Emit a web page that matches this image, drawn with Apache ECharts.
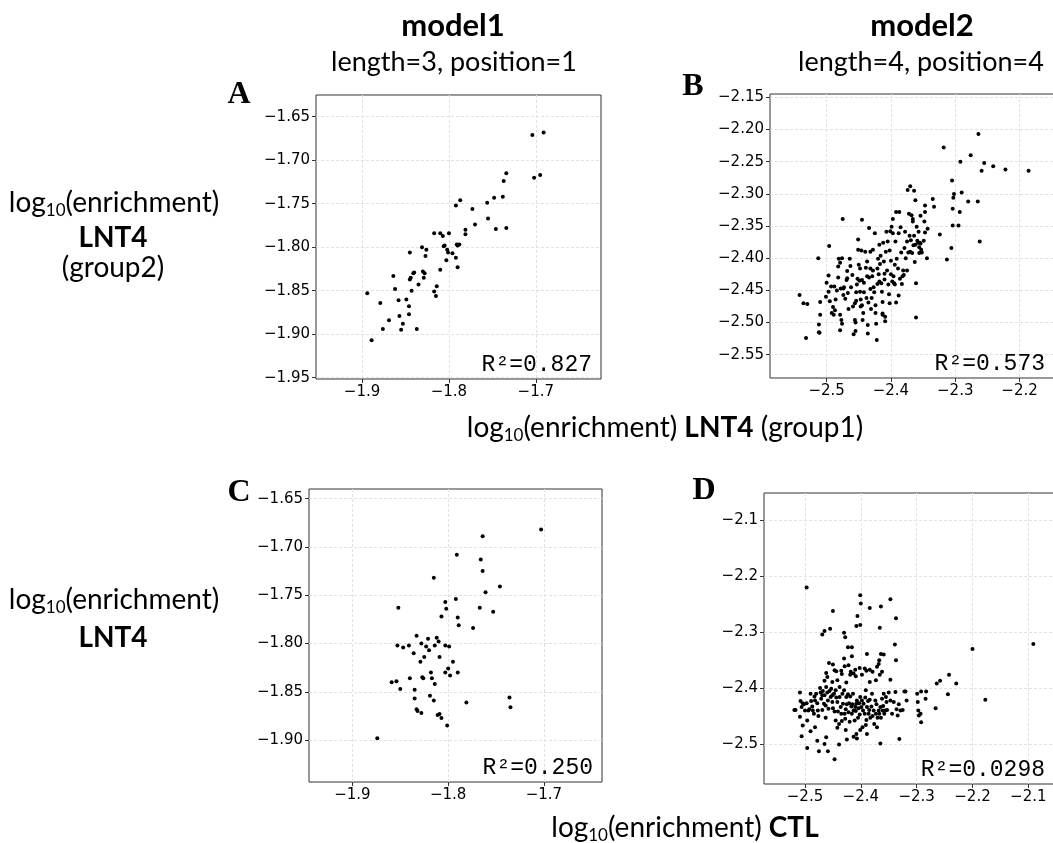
<!DOCTYPE html>
<html><head><meta charset="utf-8">
<script src="https://cdn.jsdelivr.net/npm/echarts@6/dist/echarts.min.js"></script>
<style>html,body{margin:0;padding:0;background:#fff}#c{width:1053px;height:843px}</style>
</head><body><div id="c"></div><script>
// ---------- data ----------
const panelA = [
[-1.894,-1.853],[-1.889,-1.907],[-1.879,-1.864],[-1.876,-1.894],[-1.869,-1.884],[-1.864,-1.833],[-1.862,-1.848],[-1.858,-1.861],[-1.857,-1.879],[-1.855,-1.895],[-1.853,-1.888],[-1.849,-1.860],[-1.846,-1.868],[-1.846,-1.877],[-1.845,-1.806],[-1.845,-1.837],[-1.844,-1.835],[-1.843,-1.850],[-1.841,-1.830],[-1.840,-1.829],[-1.837,-1.894],[-1.835,-1.843],[-1.831,-1.800],[-1.830,-1.828],[-1.829,-1.835],[-1.828,-1.830],[-1.827,-1.810],[-1.826,-1.803],[-1.817,-1.784],[-1.817,-1.851],[-1.815,-1.856],[-1.814,-1.845],[-1.810,-1.784],[-1.810,-1.826],[-1.807,-1.787],[-1.806,-1.799],[-1.805,-1.798],[-1.803,-1.815],[-1.802,-1.803],[-1.801,-1.806],[-1.800,-1.784],[-1.796,-1.807],[-1.792,-1.812],[-1.792,-1.752],[-1.791,-1.797],[-1.790,-1.823],[-1.790,-1.798],[-1.788,-1.797],[-1.787,-1.746],[-1.781,-1.780],[-1.781,-1.785],[-1.773,-1.756],[-1.770,-1.774],[-1.756,-1.749],[-1.755,-1.767],[-1.748,-1.743],[-1.746,-1.779],[-1.738,-1.742],[-1.737,-1.724],[-1.734,-1.715],[-1.734,-1.778],[-1.704,-1.671],[-1.702,-1.720],[-1.695,-1.717],[-1.691,-1.668]
];
const panelB = [
[-2.542,-2.457],[-2.536,-2.470],[-2.530,-2.471],[-2.532,-2.524],[-2.513,-2.400],[-2.510,-2.488],[-2.512,-2.503],[-2.512,-2.515],[-2.511,-2.516],[-2.510,-2.468],[-2.496,-2.381],[-2.500,-2.438],[-2.501,-2.460],[-2.497,-2.427],[-2.497,-2.452],[-2.493,-2.444],[-2.495,-2.467],[-2.492,-2.485],[-2.489,-2.488],[-2.490,-2.476],[-2.487,-2.481],[-2.488,-2.444],[-2.486,-2.464],[-2.484,-2.450],[-2.482,-2.430],[-2.482,-2.413],[-2.481,-2.401],[-2.479,-2.407],[-2.475,-2.339],[-2.476,-2.400],[-2.478,-2.447],[-2.479,-2.488],[-2.477,-2.496],[-2.476,-2.502],[-2.479,-2.512],[-2.474,-2.447],[-2.473,-2.445],[-2.474,-2.457],[-2.471,-2.463],[-2.469,-2.434],[-2.468,-2.420],[-2.468,-2.431],[-2.467,-2.454],[-2.466,-2.479],[-2.463,-2.412],[-2.464,-2.401],[-2.462,-2.445],[-2.460,-2.426],[-2.459,-2.475],[-2.458,-2.518],[-2.456,-2.470],[-2.456,-2.496],[-2.455,-2.500],[-2.455,-2.513],[-2.454,-2.453],[-2.454,-2.466],[-2.453,-2.441],[-2.452,-2.432],[-2.451,-2.371],[-2.451,-2.387],[-2.450,-2.410],[-2.449,-2.435],[-2.448,-2.416],[-2.448,-2.452],[-2.447,-2.464],[-2.447,-2.475],[-2.445,-2.340],[-2.446,-2.388],[-2.445,-2.434],[-2.445,-2.473],[-2.444,-2.496],[-2.443,-2.485],[-2.442,-2.453],[-2.442,-2.438],[-2.440,-2.390],[-2.439,-2.415],[-2.438,-2.462],[-2.437,-2.405],[-2.437,-2.428],[-2.436,-2.504],[-2.436,-2.517],[-2.435,-2.469],[-2.434,-2.353],[-2.434,-2.430],[-2.432,-2.448],[-2.432,-2.390],[-2.432,-2.416],[-2.431,-2.479],[-2.430,-2.462],[-2.429,-2.428],[-2.428,-2.419],[-2.428,-2.387],[-2.427,-2.445],[-2.426,-2.453],[-2.425,-2.361],[-2.424,-2.473],[-2.424,-2.485],[-2.423,-2.502],[-2.422,-2.527],[-2.421,-2.440],[-2.421,-2.416],[-2.420,-2.401],[-2.419,-2.425],[-2.418,-2.436],[-2.418,-2.379],[-2.417,-2.409],[-2.416,-2.396],[-2.415,-2.439],[-2.414,-2.452],[-2.413,-2.486],[-2.413,-2.468],[-2.413,-2.488],[-2.412,-2.376],[-2.411,-2.405],[-2.410,-2.424],[-2.410,-2.433],[-2.409,-2.491],[-2.409,-2.498],[-2.408,-2.390],[-2.407,-2.359],[-2.406,-2.419],[-2.405,-2.374],[-2.404,-2.441],[-2.403,-2.456],[-2.402,-2.470],[-2.402,-2.388],[-2.401,-2.358],[-2.400,-2.425],[-2.400,-2.404],[-2.399,-2.351],[-2.398,-2.436],[-2.397,-2.339],[-2.397,-2.361],[-2.396,-2.428],[-2.395,-2.439],[-2.394,-2.441],[-2.394,-2.410],[-2.393,-2.374],[-2.392,-2.328],[-2.392,-2.469],[-2.391,-2.401],[-2.389,-2.416],[-2.388,-2.458],[-2.388,-2.361],[-2.387,-2.328],[-2.386,-2.432],[-2.385,-2.352],[-2.384,-2.391],[-2.383,-2.440],[-2.382,-2.428],[-2.381,-2.419],[-2.380,-2.426],[-2.379,-2.384],[-2.378,-2.359],[-2.377,-2.400],[-2.375,-2.374],[-2.375,-2.419],[-2.374,-2.294],[-2.373,-2.391],[-2.372,-2.331],[-2.371,-2.365],[-2.370,-2.390],[-2.370,-2.288],[-2.369,-2.372],[-2.368,-2.333],[-2.367,-2.392],[-2.366,-2.339],[-2.366,-2.343],[-2.365,-2.380],[-2.364,-2.365],[-2.364,-2.295],[-2.363,-2.406],[-2.362,-2.379],[-2.362,-2.310],[-2.361,-2.439],[-2.361,-2.492],[-2.360,-2.351],[-2.359,-2.373],[-2.358,-2.376],[-2.357,-2.359],[-2.356,-2.392],[-2.356,-2.383],[-2.355,-2.376],[-2.354,-2.377],[-2.354,-2.334],[-2.353,-2.387],[-2.352,-2.391],[-2.349,-2.373],[-2.348,-2.343],[-2.347,-2.360],[-2.347,-2.328],[-2.347,-2.318],[-2.344,-2.400],[-2.343,-2.354],[-2.335,-2.308],[-2.333,-2.320],[-2.324,-2.363],[-2.318,-2.228],[-2.306,-2.384],[-2.313,-2.402],[-2.305,-2.279],[-2.302,-2.300],[-2.303,-2.306],[-2.290,-2.298],[-2.280,-2.312],[-2.265,-2.312],[-2.304,-2.323],[-2.293,-2.328],[-2.304,-2.349],[-2.295,-2.349],[-2.262,-2.374],[-2.264,-2.207],[-2.276,-2.240],[-2.292,-2.250],[-2.255,-2.252],[-2.241,-2.257],[-2.259,-2.264],[-2.222,-2.262],[-2.186,-2.264]
];
const panelC = [
[-1.874,-1.898],[-1.859,-1.840],[-1.854,-1.839],[-1.853,-1.802],[-1.852,-1.763],[-1.850,-1.847],[-1.847,-1.804],[-1.841,-1.802],[-1.840,-1.836],[-1.836,-1.810],[-1.835,-1.848],[-1.835,-1.857],[-1.833,-1.792],[-1.833,-1.868],[-1.832,-1.870],[-1.829,-1.819],[-1.828,-1.872],[-1.828,-1.800],[-1.827,-1.835],[-1.826,-1.836],[-1.825,-1.814],[-1.823,-1.803],[-1.821,-1.795],[-1.820,-1.807],[-1.819,-1.854],[-1.818,-1.830],[-1.817,-1.836],[-1.815,-1.732],[-1.815,-1.859],[-1.814,-1.802],[-1.814,-1.842],[-1.812,-1.794],[-1.811,-1.874],[-1.810,-1.798],[-1.809,-1.814],[-1.809,-1.873],[-1.807,-1.772],[-1.807,-1.877],[-1.803,-1.802],[-1.803,-1.757],[-1.803,-1.830],[-1.802,-1.764],[-1.801,-1.885],[-1.800,-1.826],[-1.799,-1.803],[-1.798,-1.833],[-1.795,-1.819],[-1.792,-1.754],[-1.791,-1.708],[-1.790,-1.773],[-1.790,-1.830],[-1.789,-1.781],[-1.781,-1.861],[-1.774,-1.784],[-1.767,-1.763],[-1.766,-1.713],[-1.764,-1.689],[-1.764,-1.725],[-1.761,-1.747],[-1.753,-1.767],[-1.746,-1.741],[-1.736,-1.856],[-1.735,-1.866],[-1.703,-1.682]
];
const panelD = [
[-2.497,-2.220],[-2.401,-2.234],[-2.400,-2.249],[-2.347,-2.241],[-2.450,-2.262],[-2.384,-2.257],[-2.364,-2.254],[-2.406,-2.271],[-2.337,-2.275],[-2.401,-2.287],[-2.408,-2.289],[-2.455,-2.294],[-2.366,-2.292],[-2.430,-2.301],[-2.469,-2.304],[-2.465,-2.298],[-2.428,-2.309],[-2.339,-2.322],[-2.423,-2.327],[-2.416,-2.327],[-2.364,-2.339],[-2.416,-2.343],[-2.367,-2.350],[-2.337,-2.350],[-2.389,-2.339],[-2.430,-2.347],[-2.457,-2.355],[-2.450,-2.358],[-2.429,-2.361],[-2.422,-2.359],[-2.444,-2.370],[-2.435,-2.369],[-2.462,-2.373],[-2.447,-2.368],[-2.434,-2.375],[-2.418,-2.371],[-2.410,-2.367],[-2.402,-2.364],[-2.393,-2.365],[-2.390,-2.369],[-2.384,-2.367],[-2.379,-2.371],[-2.371,-2.362],[-2.368,-2.357],[-2.362,-2.371],[-2.366,-2.376],[-2.373,-2.386],[-2.384,-2.389],[-2.359,-2.340],[-2.347,-2.385],[-2.398,-2.376],[-2.413,-2.374],[-2.409,-2.379],[-2.460,-2.380],[-2.451,-2.389],[-2.465,-2.387],[-2.442,-2.386],[-2.426,-2.390],[-2.419,-2.376],
[-2.509,-2.408],[-2.517,-2.439],[-2.519,-2.439],[-2.508,-2.423],[-2.506,-2.434],[-2.504,-2.427],[-2.502,-2.429],[-2.500,-2.440],[-2.497,-2.427],[-2.494,-2.440],[-2.492,-2.438],[-2.490,-2.410],[-2.489,-2.423],[-2.487,-2.433],[-2.486,-2.440],[-2.484,-2.446],[-2.483,-2.415],[-2.482,-2.422],[-2.480,-2.410],[-2.478,-2.427],[-2.477,-2.440],[-2.476,-2.450],[-2.473,-2.400],[-2.472,-2.408],[-2.471,-2.419],[-2.469,-2.413],[-2.469,-2.439],[-2.468,-2.405],[-2.466,-2.428],[-2.465,-2.413],[-2.463,-2.431],[-2.463,-2.453],[-2.462,-2.398],[-2.460,-2.408],[-2.459,-2.422],[-2.458,-2.437],[-2.456,-2.405],[-2.454,-2.416],[-2.453,-2.401],[-2.451,-2.413],[-2.451,-2.425],[-2.450,-2.436],[-2.448,-2.410],[-2.447,-2.442],[-2.445,-2.458],[-2.445,-2.404],[-2.444,-2.417],[-2.442,-2.425],[-2.441,-2.442],[-2.439,-2.464],[-2.438,-2.398],[-2.438,-2.416],[-2.436,-2.434],[-2.435,-2.446],[-2.434,-2.459],[-2.433,-2.410],[-2.432,-2.428],[-2.430,-2.404],[-2.429,-2.446],[-2.428,-2.455],[-2.427,-2.438],[-2.426,-2.416],[-2.425,-2.429],[-2.423,-2.411],[-2.422,-2.443],[-2.421,-2.427],[-2.420,-2.460],[-2.419,-2.415],[-2.417,-2.433],[-2.416,-2.446],[-2.415,-2.429],[-2.414,-2.410],[-2.413,-2.440],[-2.411,-2.458],[-2.410,-2.434],[-2.409,-2.441],[-2.408,-2.428],[-2.407,-2.422],[-2.405,-2.453],[-2.404,-2.436],[-2.403,-2.427],[-2.402,-2.447],[-2.401,-2.416],[-2.399,-2.434],[-2.398,-2.422],[-2.397,-2.470],[-2.396,-2.440],[-2.395,-2.428],[-2.393,-2.446],[-2.392,-2.417],[-2.391,-2.404],[-2.390,-2.457],[-2.389,-2.434],[-2.387,-2.423],[-2.386,-2.446],[-2.385,-2.439],[-2.384,-2.421],[-2.383,-2.453],[-2.381,-2.433],[-2.380,-2.410],[-2.379,-2.450],[-2.377,-2.440],[-2.376,-2.464],[-2.374,-2.422],[-2.373,-2.446],[-2.372,-2.429],[-2.371,-2.470],[-2.370,-2.453],[-2.368,-2.440],[-2.367,-2.446],[-2.365,-2.434],[-2.364,-2.453],[-2.362,-2.419],[-2.361,-2.440],[-2.360,-2.432],[-2.359,-2.410],[-2.358,-2.446],[-2.356,-2.440],[-2.355,-2.416],[-2.354,-2.425],[-2.353,-2.439],[-2.350,-2.408],[-2.347,-2.422],[-2.344,-2.446],[-2.341,-2.425],[-2.338,-2.407],[-2.336,-2.438],[-2.334,-2.449],[-2.332,-2.429],[-2.329,-2.440],[-2.325,-2.439],[-2.322,-2.406],[-2.320,-2.406],[-2.318,-2.422],
[-2.299,-2.410],[-2.298,-2.425],[-2.297,-2.440],[-2.296,-2.449],[-2.293,-2.446],[-2.292,-2.461],[-2.292,-2.406],[-2.283,-2.406],[-2.284,-2.419],[-2.266,-2.436],[-2.264,-2.392],[-2.258,-2.387],[-2.242,-2.376],[-2.229,-2.392],[-2.244,-2.411],[-2.200,-2.330],[-2.177,-2.421],[-2.091,-2.321],[-2.331,-2.491],[-2.365,-2.499],
[-2.447,-2.527],[-2.459,-2.513],[-2.475,-2.513],[-2.496,-2.507],[-2.506,-2.486],[-2.478,-2.494],[-2.465,-2.500],[-2.462,-2.488],[-2.490,-2.477],[-2.504,-2.467],[-2.482,-2.470],[-2.496,-2.458],[-2.509,-2.451],[-2.442,-2.471],[-2.427,-2.475],[-2.413,-2.487],[-2.401,-2.475],[-2.389,-2.482],[-2.425,-2.492],[-2.407,-2.490],[-2.391,-2.466],[-2.408,-2.482],[-2.439,-2.501]
];
const aXTicks = [-1.9, -1.8, -1.7];
const aYTicks = [-1.95, -1.9, -1.85, -1.8, -1.75, -1.7, -1.65];
const bXTicks = [-2.5, -2.4, -2.3, -2.2];
const bYTicks = [-2.55, -2.5, -2.45, -2.4, -2.35, -2.3, -2.25, -2.2, -2.15];
const cXTicks = [-1.9, -1.8, -1.7];
const cYTicks = [-1.9, -1.85, -1.8, -1.75, -1.7, -1.65];
const dXTicks = [-2.5, -2.4, -2.3, -2.2, -2.1];
const dYTicks = [-2.5, -2.4, -2.3, -2.2, -2.1];
const r2Labels = ['R²=0.827', 'R²=0.573', 'R²=0.250', 'R²=0.0298'];
const panelLetters = ['A', 'B', 'C', 'D'];

// ---------- layout ----------
const panels = [
  {data: panelA, xt: aXTicks, yt: aYTicks, xd: 1, yd: 2, box: {left: 316, top: 95, width: 285, height: 284}, xr: [-1.953, -1.625], yr: [-1.9515, -1.625], letter: [239, 95]},
  {data: panelB, xt: bXTicks, yt: bYTicks, xd: 1, yd: 2, box: {left: 770, top: 94, width: 284, height: 284}, xr: [-2.588, -2.1465], yr: [-2.5862, -2.1447], letter: [693, 87]},
  {data: panelC, xt: cXTicks, yt: cYTicks, xd: 1, yd: 2, box: {left: 309, top: 489, width: 293, height: 293}, xr: [-1.9453, -1.6394], yr: [-1.9434, -1.640], letter: [239, 493]},
  {data: panelD, xt: dXTicks, yt: dYTicks, xd: 1, yd: 1, box: {left: 764, top: 493, width: 291, height: 291}, xr: [-2.5734, -2.0522], yr: [-2.5714, -2.0513], letter: [704, 491]}
];
const fmt = d => v => (v < 0 ? '\u2212' : '') + Math.abs(v).toFixed(d);
const tickFont = {fontFamily: 'DejaVu Sans', fontSize: 15, color: '#000'};
const gridLine = {show: true, lineStyle: {color: '#e2e2e2', type: [3, 2], width: 1}};

const graphic = [];
function txt(x, y, text, font, align, rich) {
  const st = {text: text, x: x, y: y, font: font, fill: '#000', textAlign: align || 'center', textVerticalAlign: 'middle'};
  if (rich) st.rich = rich;
  graphic.push({type: 'text', x: 0, y: 0, silent: true, style: st});
}
const n = {fontFamily: 'Lato', fontSize: 28, lineHeight: 32};
const nb = {fontFamily: 'Lato', fontSize: 28, fontWeight: 'bold', lineHeight: 32};
const sub = {fontFamily: 'Lato', fontSize: 17, lineHeight: 17, verticalAlign: 'bottom'};
const rich = {n: n, b: nb, s: sub};

txt(453, 26, 'model1', 'bold 31px Lato');
txt(922, 26, 'model2', 'bold 31px Lato');
txt(454, 62, 'length=3, position=1', '27px Lato');
txt(921, 62, 'length=4, position=4', '27px Lato');
txt(114, 203, '{n|log}{s|10}{n|(enrichment)}', '28px Lato', 'center', rich);
txt(113, 238, 'LNT4', 'bold 28px Lato');
txt(113, 268, '(group2)', '28px Lato');
txt(114, 600, '{n|log}{s|10}{n|(enrichment)}', '28px Lato', 'center', rich);
txt(113, 638, 'LNT4', 'bold 28px Lato');
txt(665, 428, '{n|log}{s|10}{n|(enrichment) }{b|LNT4}{n| (group1)}', '28px Lato', 'center', rich);
txt(685, 828, '{n|log}{s|10}{n|(enrichment) }{b|CTL}', '28px Lato', 'center', rich);
panels.forEach((p, i) => {
  txt(p.letter[0], p.letter[1], panelLetters[i], 'bold 32px "Liberation Serif"');
  graphic.push({type: 'text', silent: true, z: 10, style: {
    text: r2Labels[i], x: Math.min(p.box.left + p.box.width, 1054) - 9, y: p.box.top + p.box.height - 3,
    font: '23px "Liberation Mono"', fill: '#000', textAlign: 'right', textVerticalAlign: 'bottom'}});
});

const option = {
  animation: false,
  backgroundColor: '#fff',
  grid: panels.map(p => Object.assign({show: true, borderColor: '#333', borderWidth: 1, backgroundColor: 'transparent', containLabel: false, outerBoundsMode: 'none'}, p.box)),
  xAxis: panels.map((p, i) => ({
    gridIndex: i, type: 'value', min: p.xr[0], max: p.xr[1],
    axisLine: {show: false},
    axisTick: {show: true, length: 4, lineStyle: {color: '#333'}, customValues: p.xt},
    axisLabel: Object.assign({customValues: p.xt, formatter: fmt(p.xd), margin: 6}, tickFont),
    splitLine: gridLine
  })),
  yAxis: panels.map((p, i) => ({
    gridIndex: i, type: 'value', min: p.yr[0], max: p.yr[1],
    axisLine: {show: false},
    axisTick: {show: true, length: 4, lineStyle: {color: '#333'}, customValues: p.yt},
    axisLabel: Object.assign({customValues: p.yt, formatter: fmt(p.yd), margin: 6}, tickFont),
    splitLine: gridLine
  })),
  series: panels.map((p, i) => ({
    type: 'scatter', xAxisIndex: i, yAxisIndex: i, data: p.data,
    symbol: 'circle', symbolSize: 4, itemStyle: {color: '#000', opacity: 1}, silent: true
  })),
  graphic: graphic
};
const chart = echarts.init(document.getElementById('c'), null, {renderer: 'canvas'});
chart.setOption(option);
</script></body></html>
